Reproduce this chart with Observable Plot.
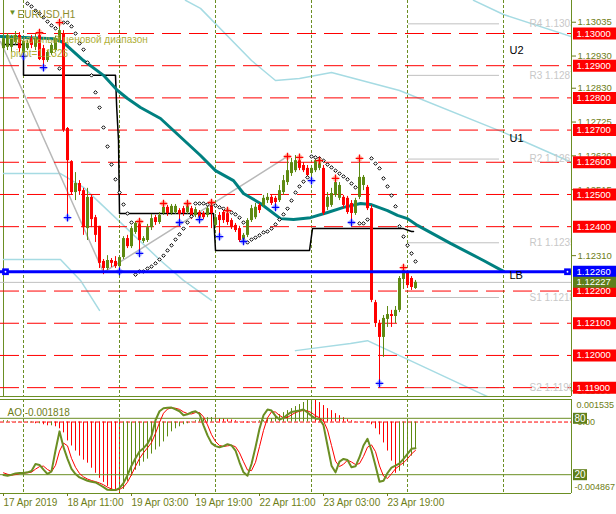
<!DOCTYPE html>
<html><head><meta charset="utf-8">
<script src="https://cdn.jsdelivr.net/npm/d3@7"></script>
<script src="https://cdn.jsdelivr.net/npm/@observablehq/plot@0.6"></script>
<style>
html,body{margin:0;padding:0;background:#fff;}
#chart{position:relative;width:616px;height:514px;overflow:hidden;background:#fff;}
#chart svg{position:absolute;left:0;max-width:none;}
</style></head><body><div id="chart"></div>
<script>
// ---------- DATA (EURUSD H1, bar index 0 = 17 Apr 19:00) ----------
const open = [
1.12953,1.12957,1.12957,1.12972,1.12994,1.12938,1.12953,1.12984,1.12957,1.12994,
1.12953,1.12916,1.12938,1.12947,1.12978,1.13000,1.12705,1.12602,1.12506,1.12534,
1.12512,1.12394,1.12491,1.12428,1.12401,1.12292,1.12270,1.12295,1.12292,1.12276,
1.12304,1.12363,1.12338,1.12382,1.12410,1.12354,1.12357,1.12397,1.12428,1.12413,
1.12441,1.12460,1.12441,1.12444,1.12450,1.12456,1.12444,1.12456,1.12435,1.12444,
1.12441,1.12435,1.12463,1.12404,1.12435,1.12444,1.12441,1.12419,1.12404,1.12394,
1.12351,1.12373,1.12419,1.12428,1.12466,1.12466,1.12481,1.12491,1.12488,1.12481,
1.12506,1.12537,1.12565,1.12574,1.12605,1.12590,1.12581,1.12565,1.12574,1.12581,
1.12581,1.12460,1.12466,1.12497,1.12488,1.12491,1.12488,1.12472,1.12441,1.12491,
1.12528,1.12522,1.12456,1.12164,1.12099,1.12056,1.12112,1.12127,1.12121,1.12140,
1.12236,1.12258,1.12239,1.12208];
const high = [
1.13000,1.13000,1.12994,1.13006,1.13003,1.12984,1.12978,1.12994,1.12997,1.13003,
1.12963,1.12947,1.12969,1.12991,1.13034,1.13009,1.12708,1.12605,1.12568,1.12543,
1.12519,1.12519,1.12497,1.12435,1.12401,1.12298,1.12310,1.12301,1.12307,1.12310,
1.12369,1.12373,1.12401,1.12416,1.12416,1.12369,1.12407,1.12438,1.12435,1.12444,
1.12472,1.12466,1.12469,1.12469,1.12456,1.12463,1.12472,1.12463,1.12460,1.12450,
1.12447,1.12463,1.12475,1.12438,1.12444,1.12450,1.12450,1.12425,1.12410,1.12401,
1.12379,1.12425,1.12466,1.12472,1.12472,1.12497,1.12503,1.12497,1.12494,1.12528,
1.12559,1.12618,1.12612,1.12621,1.12615,1.12599,1.12590,1.12590,1.12612,1.12605,
1.12590,1.12506,1.12519,1.12550,1.12537,1.12497,1.12494,1.12481,1.12488,1.12612,
1.12559,1.12528,1.12466,1.12171,1.12109,1.12124,1.12152,1.12140,1.12152,1.12245,
1.12273,1.12258,1.12245,1.12233];
const low = [
1.12925,1.12947,1.12941,1.12963,1.12941,1.12925,1.12947,1.12953,1.12947,1.12916,
1.12894,1.12910,1.12932,1.12941,1.12972,1.12693,1.12428,1.12497,1.12481,1.12497,
1.12373,1.12357,1.12397,1.12351,1.12270,1.12251,1.12264,1.12273,1.12270,1.12261,
1.12298,1.12332,1.12332,1.12376,1.12317,1.12348,1.12351,1.12388,1.12404,1.12407,
1.12435,1.12432,1.12435,1.12438,1.12413,1.12432,1.12438,1.12422,1.12428,1.12422,
1.12422,1.12428,1.12394,1.12394,1.12369,1.12410,1.12404,1.12391,1.12382,1.12351,
1.12348,1.12366,1.12413,1.12422,1.12441,1.12460,1.12472,1.12466,1.12460,1.12475,
1.12497,1.12528,1.12556,1.12568,1.12574,1.12568,1.12550,1.12543,1.12568,1.12574,
1.12435,1.12450,1.12460,1.12491,1.12481,1.12456,1.12438,1.12413,1.12435,1.12484,
1.12512,1.12450,1.12164,1.12087,1.11913,1.11994,1.12087,1.12087,1.12099,1.12133,
1.12205,1.12208,1.12202,1.12205];
const close = [
1.12984,1.12994,1.12984,1.12994,1.12953,1.12975,1.12969,1.12963,1.12984,1.12919,
1.12916,1.12941,1.12963,1.12984,1.13009,1.12699,1.12605,1.12506,1.12534,1.12509,
1.12397,1.12491,1.12422,1.12373,1.12286,1.12270,1.12295,1.12286,1.12276,1.12304,
1.12363,1.12338,1.12394,1.12410,1.12357,1.12363,1.12397,1.12425,1.12413,1.12435,
1.12460,1.12441,1.12463,1.12463,1.12438,1.12441,1.12469,1.12428,1.12453,1.12425,
1.12428,1.12456,1.12441,1.12428,1.12419,1.12419,1.12413,1.12397,1.12388,1.12357,
1.12373,1.12419,1.12456,1.12460,1.12450,1.12488,1.12491,1.12472,1.12475,1.12512,
1.12543,1.12574,1.12599,1.12605,1.12581,1.12574,1.12559,1.12581,1.12605,1.12602,
1.12441,1.12491,1.12503,1.12537,1.12528,1.12466,1.12444,1.12441,1.12481,1.12553,
1.12553,1.12456,1.12171,1.12099,1.12056,1.12115,1.12127,1.12121,1.12140,1.12239,
1.12264,1.12217,1.12211,1.12227];

// Parabolic SAR (null = not drawn)
const sar = [
null,null,null,null,null,null,1.13093,1.13084,1.13071,1.13062,
1.13050,1.13037,1.13025,1.13016,1.12891,1.13034,1.13034,1.13022,1.13000,1.12969,
1.12950,1.12910,1.12870,1.12817,1.12770,1.12708,1.12649,1.12593,1.12547,1.12506,
1.12469,1.12441,1.12413,1.12251,1.12261,1.12261,1.12270,1.12276,1.12286,1.12298,
1.12310,1.12326,1.12342,1.12360,1.12376,1.12394,1.12413,1.12432,1.12472,1.12472,
1.12472,1.12469,1.12469,1.12466,1.12460,1.12456,1.12450,1.12444,1.12438,1.12428,
1.12413,1.12351,1.12360,1.12366,1.12373,1.12382,1.12385,1.12394,1.12407,1.12422,
1.12438,1.12456,1.12481,1.12506,1.12525,1.12540,1.12553,1.12618,1.12615,1.12612,
1.12605,1.12593,1.12584,1.12574,1.12565,1.12556,1.12547,1.12534,1.12522,1.12410,
1.12410,1.12422,1.12612,1.12596,1.12581,1.12550,1.12525,1.12497,1.12463,1.12401,
1.12369,1.12342,1.12317,1.12292];

// Fractals
const fracUpIdx = [9,14,34,40,46,52,56,71,74,79,83,89,100];
const fracUpVal = [1.13003,1.13034,1.12416,1.12472,1.12472,1.12475,1.12450,1.12618,1.12615,1.12605,1.12550,1.12612,1.12273];
const fracDnIdx = [5,10,16,29,34,44,49,54,60,68,77,87,94];
const fracDnVal = [1.12929,1.12894,1.12428,1.12261,1.12317,1.12413,1.12422,1.12369,1.12354,1.12460,1.12543,1.12413,1.11913];

// Moving average (teal, shifted forward)
const maIdx = [-0.75,12.5,15,20,25,28.5,31,34.25,39.25,49.25,53,57.5,60,64.25,69.25,72.5,76.75,81,85,89.25,91.75,96,98.5,101,103.5,111.75,120,125];
const maVal = [1.12991,1.12984,1.12972,1.12916,1.12870,1.12823,1.12798,1.12770,1.12736,1.12621,1.12574,1.12543,1.12503,1.12472,1.12425,1.12422,1.12428,1.12444,1.12460,1.12472,1.12469,1.12450,1.12435,1.12425,1.12404,1.12348,1.12295,1.12261];

// Black range step line
const stepIdx = [0,5,5,28,28.3,28.75,29,52.5,53,76.5,77.25,100,102,102.5];
const stepVal = [1.12966,1.12966,1.12870,1.12870,1.12770,1.12668,1.12441,1.12441,1.12326,1.12326,1.12394,1.12394,1.12385,1.12385];

// Gray zigzag
const zzIdx = [-0.75,25,71];
const zzVal = [1.12975,1.12258,1.12618];

// Light cyan channel lines
const cyanAIdx = [0,14.25,20,39.25,45,52];
const cyanAVal = [1.12565,1.12565,1.12522,1.12295,1.12233,1.12171];
const cyanBIdx = [0,14.25,19.25,24];
const cyanBVal = [1.12298,1.12298,1.12233,1.12140];
const cyanCIdx = [117.5,125,142];
const cyanCVal = [1.13103,1.13059,1.12990];
const cyanDIdx = [45.5,49.25,62,68,74,82,99,125,142];
const cyanDVal = [1.13103,1.13078,1.12916,1.12854,1.12860,1.12879,1.12823,1.12693,1.12600];
const cyanEIdx = [73,86.75,91,119.25,125];
const cyanEVal = [1.12015,1.12037,1.12046,1.11882,1.11850];

// Pivot levels
const pivNames = ["R4","R3","R2","R1","S1","S2"];
const pivVals = [1.1303,1.1287,1.1261,1.1235,1.1218,1.1190];

// Horizontal levels
const redLevels = [1.1300,1.1290,1.1280,1.1270,1.1260,1.1250,1.1240,1.1220,1.1210,1.1200,1.1190];
const priceTicks = [1.13035,1.12930,1.12830,1.12725,1.12620,1.12515,1.12310,1.11890];
const lbLevel = 1.12260;
const bidLevel = 1.12227;
const lbAnchorIdx = [0.5,141];
const objNames = ["U2","U1","LB"];
const objVals = [1.12947,1.12674,1.12247];

// Time axis
const daySepIdx = [5,29,53,77,101,125];
const timeTickIdx = [0,16,32,48,64,80,96];
const timeTickLabels = ["17 Apr 2019","18 Apr 11:00","19 Apr 03:00","19 Apr 19:00","22 Apr 11:00","23 Apr 03:00","23 Apr 19:00"];

// Awesome Oscillator
const ao = [
0.000089,0.000089,0.000020,0.000020,0.000020,-0.000048,-0.000048,-0.000048,-0.000117,-0.000117,
-0.000186,-0.000255,-0.000255,-0.000324,-0.000461,-0.000737,-0.001287,-0.001632,-0.001976,-0.002320,
-0.002596,-0.002802,-0.003146,-0.003490,-0.003835,-0.004110,-0.004385,-0.004592,-0.004729,-0.004867,
-0.004592,-0.004041,-0.003697,-0.003284,-0.003008,-0.002733,-0.002527,-0.002182,-0.001907,-0.001700,
-0.001356,-0.001012,-0.000668,-0.000461,-0.000324,-0.000186,-0.000117,-0.000048,0.000089,0.000158,
0.000227,0.000296,0.000310,0.000280,0.000227,0.000210,0.000158,0.000140,0.000089,0.000020,
-0.000048,-0.000060,-0.000030,0.000020,0.000089,0.000100,0.000158,0.000227,0.000365,0.000502,
0.000640,0.000778,0.000915,0.001053,0.001191,0.001328,0.001466,0.001535,0.001466,0.001328,
0.001122,0.000915,0.000778,0.000571,0.000434,0.000296,0.000158,0.000089,0.000020,0.000010,
0.000005,-0.000048,-0.000186,-0.000461,-0.000874,-0.001425,-0.001976,-0.002664,-0.003490,-0.003353,
-0.003008,-0.002664,-0.002320,-0.001818];
const aoMax = 0.001535, aoMin = -0.004867, aoLast = -0.001818;

// Stochastic
const stochK = [
19.6,18.9,20.0,21.4,21.8,21.8,22.5,23.9,31.4,30.4,
25.4,20.7,23.6,45.7,66.1,49.3,36.8,26.1,20.7,17.1,
15.4,13.6,12.5,11.8,9.3,6.8,3.9,3.6,3.6,5.7,
11.1,19.6,29.6,37.5,44.6,48.2,52.9,61.1,77.9,87.5,
90.7,91.1,91.4,89.6,87.5,83.2,84.3,86.4,87.5,84.6,
72.5,61.8,53.6,50.4,49.3,50.4,52.5,51.1,45.7,33.2,
22.5,18.9,31.4,49.3,68.9,83.2,89.3,88.2,82.5,78.6,
80.4,83.9,86.8,87.5,88.2,89.3,86.1,82.5,79.6,79.6,
72.5,51.1,29.6,22.5,33.9,36.8,35.7,27.9,28.9,38.6,
51.1,58.2,45.7,29.6,12.5,13.6,21.8,27.5,29.6,32.1,
36.8,42.1,47.5,48.2];
const stochD = [
22.0,20.5,19.5,20.1,21.1,21.7,22.0,22.7,25.9,28.6,
29.1,25.5,23.2,30.0,45.1,53.7,50.7,37.4,27.9,21.3,
17.7,15.4,13.8,12.6,11.2,9.3,6.7,4.8,3.7,4.3,
6.8,12.1,20.1,28.9,37.2,43.4,48.6,54.1,64.0,75.5,
85.4,89.8,91.1,90.7,89.5,86.8,85.0,84.6,86.1,86.2,
81.5,73.0,62.6,55.3,51.1,50.0,50.7,51.3,49.8,43.3,
33.8,24.9,24.3,33.2,49.9,67.1,80.5,86.9,86.7,83.1,
80.5,81.0,83.7,86.1,87.5,88.3,87.9,86.0,82.7,80.6,
77.2,67.7,51.1,34.4,28.7,31.1,35.5,33.5,30.8,31.8,
39.5,49.3,51.7,44.5,29.3,18.6,16.0,21.0,26.3,29.7,
32.8,37.0,42.1,45.9];
const stochLevels = [20,80];

// ---------- STYLE ----------
const FONT = "Liberation Sans, Arial, sans-serif";
const OL = "#6b8e23", AXT = "#6e7d16", BULL = "#5e8a12", RED = "#ff0000", BLUE = "#0000ff";
const CYAN = "#a6dbe3", GRAY = "#c0c0c0";
const xDom = [-0.75, 142];
const yDom = [1.118725, 1.131025];
const pts = (xs, ys) => xs.map((x, k) => ({x, y: ys[k]}));

const bars = open.map((o, i) => ({i, o, h: high[i], l: low[i], c: close[i], col: close[i] >= o ? BULL : RED}));
const sarData = sar.map((v, i) => ({x: i, y: v})).filter(d => d.y != null);
const fu = pts(fracUpIdx, fracUpVal), fd = pts(fracDnIdx, fracDnVal);

const main = Plot.plot({
  width: 616, height: 397, marginLeft: 0, marginRight: 45, marginTop: 0, marginBottom: 1,
  x: {domain: xDom, axis: null}, y: {domain: yDom, axis: null},
  color: {type: "identity"},
  style: {fontFamily: FONT, fontSize: "10px", background: "white", overflow: "visible"},
  marks: [
    Plot.ruleX([0], {stroke: OL}),
    Plot.line(pts(cyanAIdx, cyanAVal), {x: "x", y: "y", stroke: CYAN, clip: true}),
    Plot.line(pts(cyanBIdx, cyanBVal), {x: "x", y: "y", stroke: CYAN, clip: true}),
    Plot.line(pts(cyanCIdx, cyanCVal), {x: "x", y: "y", stroke: CYAN, clip: true}),
    Plot.line(pts(cyanDIdx, cyanDVal), {x: "x", y: "y", stroke: CYAN, clip: true}),
    Plot.line(pts(cyanEIdx, cyanEVal), {x: "x", y: "y", stroke: CYAN, clip: true}),
    Plot.ruleY(pivVals, {x1: 101.25, x2: 124, stroke: GRAY}),
    Plot.line(pts(zzIdx, zzVal), {x: "x", y: "y", stroke: "#b8b8b8", clip: true}),
    Plot.ruleY([bidLevel], {stroke: GRAY}),
    Plot.ruleX(daySepIdx, {stroke: OL, strokeDasharray: "3,2"}),
    Plot.ruleY(redLevels, {stroke: RED, strokeDasharray: "19,8"}),
    Plot.line(pts(stepIdx, stepVal), {x: "x", y: "y", stroke: "black", strokeWidth: 1.5}),
    Plot.line(pts(maIdx, maVal), {x: "x", y: "y", stroke: "#008080", strokeWidth: 3, clip: true}),
    Plot.ruleX(bars, {x: "i", y1: "l", y2: "h", stroke: "col"}),
    Plot.ruleX(bars, {x: "i", y1: "o", y2: "c", stroke: "col", strokeWidth: 3}),
    Plot.dot(sarData, {x: "x", y: "y", symbol: "diamond2", r: 1.6, stroke: "black", fill: "white", strokeWidth: 1}),
    Plot.dot(fu, {x: "x", y: "y", r: 3, fill: "#ffb090", fillOpacity: 0.7}),
    Plot.dot(fu, {x: "x", y: "y", symbol: "plus", r: 2.6, stroke: RED, strokeWidth: 1.3}),
    Plot.dot(fd, {x: "x", y: "y", r: 3, fill: "#a0b0ff", fillOpacity: 0.7}),
    Plot.dot(fd, {x: "x", y: "y", symbol: "plus", r: 2.6, stroke: BLUE, strokeWidth: 1.3}),
    Plot.ruleY([lbLevel], {stroke: BLUE, strokeWidth: 3}),
    Plot.dot(lbAnchorIdx, {x: d => d, y: lbLevel, symbol: "square", r: 3.8, fill: BLUE}),
    Plot.dot(lbAnchorIdx, {x: d => d, y: lbLevel, r: 0.9, fill: "white"}),
    Plot.text(objVals, {x: 126.5, y: d => d, text: (d, k) => objNames[k], textAnchor: "start", fill: "black", fontSize: 11}),
    Plot.text(pivVals, {x: 131.5, y: d => d, text: (d, k) => pivNames[k] + " " + d.toFixed(4), textAnchor: "start", fill: "#c8c8c8", fontSize: 10, clip: true}),
    Plot.ruleX([142], {stroke: OL}),
    Plot.ruleY([yDom[0]], {stroke: OL}),
    Plot.axisY(priceTicks, {anchor: "right", tickSize: 4, tickPadding: 2, tickFormat: d => d.toFixed(5), color: AXT, fontSize: 9.5, label: null}),
    Plot.ruleY(redLevels, {x1: 142.5, x2: 153.5, stroke: RED, strokeWidth: 12}),
    Plot.text(redLevels, {x: 142.5, y: d => d, text: d => d.toFixed(5), textAnchor: "start", dx: 3, fill: "white", fontSize: 9.5}),
    Plot.ruleY([lbLevel], {x1: 142.5, x2: 153.5, stroke: BLUE, strokeWidth: 12}),
    Plot.text([lbLevel], {x: 142.5, y: d => d, text: d => d.toFixed(5), textAnchor: "start", dx: 3, fill: "white", fontSize: 9.5}),
    Plot.ruleY([bidLevel], {x1: 142.5, x2: 153.5, stroke: "#5f7f1a", strokeWidth: 11}),
    Plot.text([bidLevel], {x: 142.5, y: d => d, text: d => d.toFixed(5), textAnchor: "start", dx: 3, fill: "white", fontSize: 9.5}),
    Plot.text(["▼"], {frameAnchor: "top-left", dx: 8, dy: 9, fontSize: 8, fill: OL}),
    Plot.text(["EURUSD,H1"], {frameAnchor: "top-left", dx: 17, dy: 10, textAnchor: "start", fill: "#8c8c2c", fontSize: 10}),
    Plot.text(["Начальный ценовой диапазон"], {frameAnchor: "top-left", dx: 7, dy: 35, textAnchor: "start", fill: "#b0b038", fontSize: 10}),
    Plot.text(["pivot=1.1326"], {frameAnchor: "top-left", dx: 10, dy: 49, textAnchor: "start", fill: "#b0b038", fontSize: 10})
  ]
});
main.style.top = "0px";

const aoData = ao.map((v, i) => ({i, v, col: (i === 0 || v >= ao[i - 1]) ? BULL : RED}));
const aoPlot = Plot.plot({
  width: 616, height: 117, marginLeft: 0, marginRight: 45, marginTop: 2, marginBottom: 21,
  x: {domain: xDom, axis: null}, y: {domain: [aoMin, aoMax], axis: null},
  color: {type: "identity"},
  style: {fontFamily: FONT, fontSize: "9px", background: "white", overflow: "visible"},
  marks: [
    Plot.ruleY([0], {stroke: RED, strokeDasharray: "4,2"}),
    Plot.ruleX(aoData, {x: "i", y1: 0, y2: "v", stroke: "col"}),
    Plot.text([aoMax], {x: 142.5, y: d => d, dy: 6, dx: 3, text: d => d.toFixed(6), textAnchor: "start", fill: AXT}),
    Plot.text([0], {x: 142.5, y: d => d, dx: 4, text: () => "0.00", textAnchor: "start", fill: AXT}),
    Plot.text([aoMin], {x: 142.5, y: d => d, dy: -6, dx: 1, text: d => d.toFixed(6), textAnchor: "start", fill: AXT}),
    Plot.text([aoLast], {frameAnchor: "top-left", dx: 7, dy: 9, text: d => "AO -" + Math.abs(d).toFixed(6), textAnchor: "start", fill: AXT, fontSize: 10})
  ]
});
aoPlot.style.top = "397px";

const kData = stochK.map((v, i) => ({i, v}));
const dData = stochD.map((v, i) => ({i, v}));
const tickMap = new Map(timeTickIdx.map((t, k) => [t, timeTickLabels[k]]));
const stPlot = Plot.plot({
  width: 616, height: 117, marginLeft: 0, marginRight: 45, marginTop: 2, marginBottom: 21,
  x: {domain: xDom, axis: null}, y: {domain: [0, 100], axis: null},
  color: {type: "identity"},
  style: {fontFamily: FONT, fontSize: "10px", background: "transparent", overflow: "visible"},
  marks: [
    Plot.ruleX(daySepIdx, {stroke: OL, strokeDasharray: "3,2"}),
    Plot.ruleY(stochLevels, {stroke: OL}),
    Plot.line(dData, {x: "i", y: "v", stroke: RED, strokeWidth: 1}),
    Plot.line(kData, {x: "i", y: "v", stroke: OL, strokeWidth: 2}),
    Plot.ruleY([0, 100], {stroke: OL}),
    Plot.ruleX([142], {stroke: OL}),
    Plot.ruleY(stochLevels, {x1: 142.5, x2: 146, stroke: "#5f7f1a", strokeWidth: 11}),
    Plot.text(stochLevels, {x: 142.5, y: d => d, dx: 1, text: d => String(d), textAnchor: "start", fill: "white"}),
    Plot.axisX(timeTickIdx, {anchor: "bottom", tickSize: 3, tickPadding: 2, tickFormat: d => tickMap.get(d), textAnchor: "start", color: AXT, fontSize: 10, label: null})
  ]
});
stPlot.style.top = "397px";

const host = document.getElementById("chart");
host.append(main, aoPlot, stPlot);
</script>
</body></html>
